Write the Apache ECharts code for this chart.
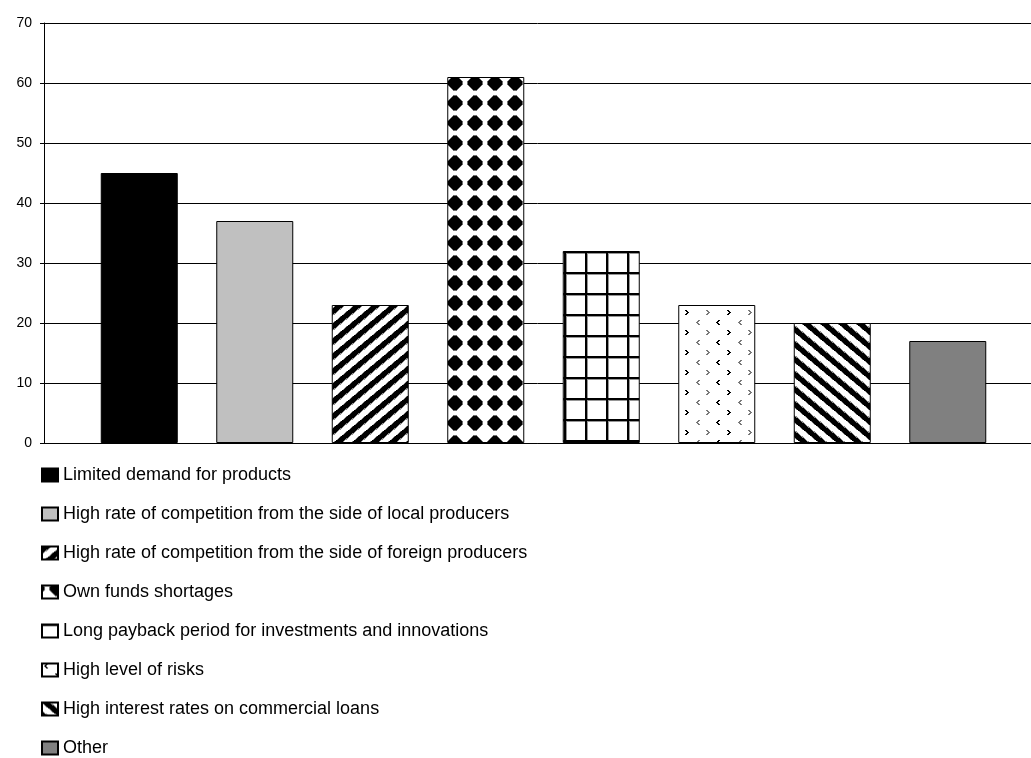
<!DOCTYPE html>
<html>
<head>
<meta charset="utf-8">
<script src="https://cdn.jsdelivr.net/npm/echarts@6/dist/echarts.min.js"></script>
<style>
html,body{margin:0;padding:0;background:#fff;}
#chart{width:1031px;height:758px;}
</style>
</head>
<body>
<div id="chart"></div>
<script>
// ---- data ----
const seriesNames = [
  'Limited demand for products',
  'High rate of competition from the side of local producers',
  'High rate of competition from the side of foreign producers',
  'Own funds shortages',
  'Long payback period for investments and innovations',
  'High level of risks',
  'High interest rates on commercial loans',
  'Other'
];
const seriesValues = [45, 37, 23, 61, 32, 23, 20, 17];
const yTicks = [0, 10, 20, 30, 40, 50, 60, 70];

// ---- pattern tiles ----
function makeTile(w, h, fn) {
  const c = document.createElement('canvas');
  c.width = w; c.height = h;
  const ctx = c.getContext('2d');
  const img = ctx.createImageData(w, h);
  for (let y = 0; y < h; y++) {
    for (let x = 0; x < w; x++) {
      const v = fn(x, y);
      const i = (y * w + x) * 4;
      img.data[i] = v; img.data[i + 1] = v; img.data[i + 2] = v; img.data[i + 3] = 255;
    }
  }
  ctx.putImageData(img, 0, 0);
  return c;
}
function mod(a, n) { return ((a % n) + n) % n; }

const SW = 18, SH = 15, SP = SW * SH;
const upStripes = makeTile(SW, SH, (x, y) => {
  const r = mod(SH * x + SW * y, SP) / SP;
  return r < 0.42 ? 0 : (r < 0.49 || r > 0.95 ? 140 : 255);
});
const downStripes = makeTile(SW, SH, (x, y) => {
  const r = mod(SH * x - SW * y, SP) / SP;
  return r < 0.42 ? 0 : (r < 0.49 || r > 0.95 ? 140 : 255);
});
const diamonds = makeTile(20, 20, (x, y) => {
  const dx = mod(x - 5, 20) - 10 + 0.5;
  const dy = mod(y - 13, 20) - 10 + 0.5;
  const d = (Math.abs(dx) + Math.abs(dy)) / 9.6;
  const c = Math.sqrt(dx * dx + dy * dy) / 8.0;
  const m = Math.max(d, c);
  return m <= 0.92 ? 0 : (m <= 1.02 ? 110 : 255);
});
const gridTile = makeTile(21, 21, (x, y) => {
  const mx = mod(x - 18, 21), my = mod(y - 20, 21);
  if (mx < 2 || my < 2) return 0;
  if (mx === 2 || my === 2) return 150;
  return 255;
});
const dotsTile = (function () {
  const w = 42, h = 20;
  const px = Array.from({ length: h }, () => Array(w).fill(255));
  const gt = [[1,1,0,0],[0,1,1,0],[0,0,1,1],[0,1,1,0],[1,1,0,0]];
  const lt = [[0,0,1,1],[0,1,1,0],[1,1,0,0],[0,1,1,0],[0,0,1,1]];
  function put(g, cx, cy, v) {
    for (let r = 0; r < g.length; r++) for (let c = 0; c < g[r].length; c++) {
      if (g[r][c]) px[mod(cy - 2 + r, h)][mod(cx - 2 + c, w)] = v;
    }
  }
  put(gt, 15, 12, 0);
  put(gt, 36, 12, 120);
  put(lt, 26, 2, 120);
  put(lt, 4, 2, 0);
  return makeTile(w, h, (x, y) => px[y][x]);
})();

const fills = [
  '#000000',
  '#c0c0c0',
  { image: upStripes, repeat: 'repeat' },
  { image: diamonds, repeat: 'repeat' },
  { image: gridTile, repeat: 'repeat' },
  { image: dotsTile, repeat: 'repeat' },
  { image: downStripes, repeat: 'repeat' },
  '#808080'
];

const chart = echarts.init(document.getElementById('chart'), null, { renderer: 'canvas' });

const series = seriesNames.map((name, i) => ({
  name: name,
  type: 'bar',
  xAxisIndex: 1,
  yAxisIndex: 1,
  data: [seriesValues[i]],
  barWidth: 77,
  barGap: '50%',
  itemStyle: { color: fills[i], borderColor: '#000', borderWidth: 1 },
  emphasis: { disabled: true },
  animation: false
}));

const yMin = yTicks[0], yMax = yTicks[yTicks.length - 1];

chart.setOption({
  animation: false,
  backgroundColor: '#fff',
  grid: [
    { left: 44, right: 0, top: 23, height: 420, outerBoundsMode: 'none' },
    { left: 56, right: 0, top: 23, height: 420, outerBoundsMode: 'none' }
  ],
  xAxis: [
    {
      gridIndex: 0,
      type: 'category',
      data: [''],
      axisLine: { show: true, lineStyle: { color: '#000', width: 1 } },
      axisTick: { show: false },
      axisLabel: { show: false }
    },
    {
      gridIndex: 1,
      type: 'category',
      data: [''],
      show: false
    }
  ],
  yAxis: [
    {
      gridIndex: 0,
      type: 'value',
      min: yMin,
      max: yMax,
      interval: 10,
      axisLine: { show: true, lineStyle: { color: '#000', width: 1 } },
      axisTick: { show: true, length: 4, lineStyle: { color: '#000' } },
      axisLabel: { color: '#000', fontSize: 14, fontFamily: 'Liberation Sans, Arial, sans-serif', margin: 12 },
      splitLine: { show: true, lineStyle: { color: '#000', width: 1 } }
    },
    {
      gridIndex: 1,
      type: 'value',
      min: yMin,
      max: yMax,
      interval: 10,
      show: false,
      splitLine: { show: false }
    }
  ],
  legend: {
    orient: 'vertical',
    left: 41,
    top: 466,
    padding: 0,
    height: 300,
    itemWidth: 16,
    itemHeight: 13,
    itemGap: 21,
    selectedMode: false,
    icon: 'rect',
    textStyle: { color: '#000', fontSize: 18, lineHeight: 18, fontFamily: 'Liberation Sans, Arial, sans-serif' },
    data: seriesNames
  },
  series: series
});
</script>
</body>
</html>
